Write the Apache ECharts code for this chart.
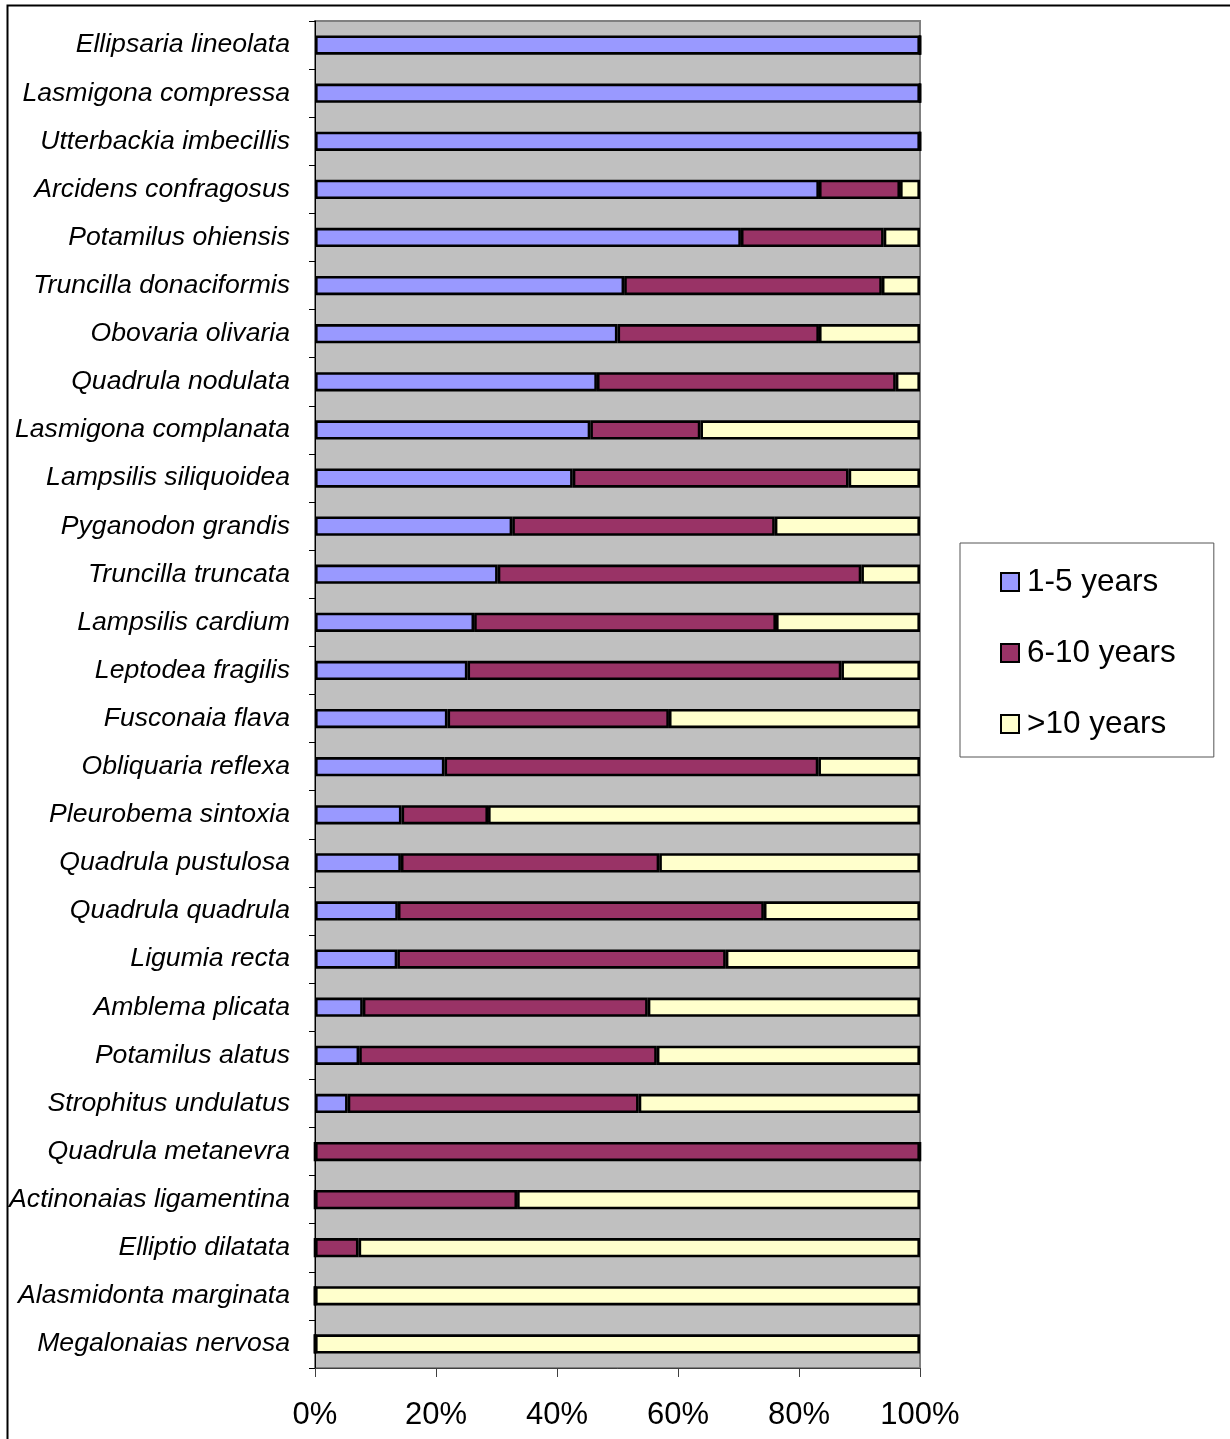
<!DOCTYPE html>
<html>
<head>
<meta charset="utf-8">
<script src="https://cdn.jsdelivr.net/npm/echarts@6/dist/echarts.min.js"></script>
<style>
html,body{margin:0;padding:0;background:#fff;}
#chart{width:1230px;height:1439px;}
</style>
</head>
<body>
<div id="chart"></div>
<script>
const species = [
  "Ellipsaria lineolata","Lasmigona compressa","Utterbackia imbecillis","Arcidens confragosus",
  "Potamilus ohiensis","Truncilla donaciformis","Obovaria olivaria","Quadrula nodulata",
  "Lasmigona complanata","Lampsilis siliquoidea","Pyganodon grandis","Truncilla truncata",
  "Lampsilis cardium","Leptodea fragilis","Fusconaia flava","Obliquaria reflexa",
  "Pleurobema sintoxia","Quadrula pustulosa","Quadrula quadrula","Ligumia recta",
  "Amblema plicata","Potamilus alatus","Strophitus undulatus","Quadrula metanevra",
  "Actinonaias ligamentina","Elliptio dilatata","Alasmidonta marginata","Megalonaias nervosa"
];
const years1to5 = [100,100,100,83.3,70.4,51.1,50.0,46.6,45.5,42.6,32.6,30.2,26.3,25.2,21.9,21.4,14.3,14.2,13.7,13.6,7.9,7.3,5.4,0,0,0,0,0];
const years6to10 = [0,0,0,13.4,23.6,42.6,33.3,49.4,18.2,45.6,43.4,60.1,49.9,61.8,36.6,61.8,14.3,42.7,60.5,54.3,47.1,49.2,48.1,100,33.4,7.2,0,0];
const yearsOver10 = [0,0,0,3.3,6.0,6.3,16.7,4.0,36.3,11.8,24.0,9.7,23.8,13.0,41.5,16.8,71.4,43.1,25.8,32.1,45.0,43.5,46.5,0,66.6,92.8,100,100];
const seriesNames = ["1-5 years","6-10 years",">10 years"];
const xTicks = [0,20,40,60,80,100];

const FONT = "'Liberation Sans', Arial, sans-serif";
const colors = ["#9999FF","#993366","#FFFFCC"];
const dataSets = [years1to5, years6to10, yearsOver10];

const chart = echarts.init(document.getElementById('chart'), null, {renderer:'canvas'});
chart.setOption({
  animation:false,
  backgroundColor:'#ffffff',
  graphic:[{
    type:'rect', left:5, top:3, z:-10,
    shape:{x:0,y:0,width:1240,height:1500},
    style:{fill:'none', stroke:'#000', lineWidth:2}
  }],
  grid:{
    left:315, right:310, top:21, bottom:71,
    show:true, backgroundColor:'#C0C0C0', borderColor:'#808080', borderWidth:2
  },
  legend:{
    orient:'vertical',
    left:960, top:543,
    padding:[23,38,17,40],
    itemWidth:18, itemHeight:18, itemGap:39,
    icon:'rect',
    borderColor:'#555', borderWidth:1,
    backgroundColor:'#fff',
    textStyle:{fontFamily:FONT, fontSize:31.5, color:'#000', lineHeight:31, padding:[0,0,0,3]},
    data:seriesNames
  },
  xAxis:{
    type:'value', min:0, max:100, interval:20,
    axisLine:{show:true, lineStyle:{color:'#404040', width:1}},
    axisTick:{show:true, length:9, lineStyle:{color:'#404040'}},
    splitLine:{show:false},
    axisLabel:{formatter:v=>v+'%', fontFamily:FONT, fontSize:31, color:'#000', margin:32},
    data:xTicks
  },
  yAxis:{
    type:'category', inverse:true, data:species,
    axisLine:{show:true, lineStyle:{color:'#000', width:1}},
    axisTick:{show:true, length:6, lineStyle:{color:'#000'}},
    axisLabel:{fontFamily:FONT, fontSize:26.6, fontStyle:'italic', color:'#000', margin:25, padding:[5,0,0,0]}
  },
  series: seriesNames.map((n,i)=>({
    name:n, type:'bar', stack:'total', barWidth:'40%',
    data:dataSets[i],
    itemStyle:{color:colors[i], borderColor:'#000', borderWidth:2.6}
  }))
});
</script>
</body>
</html>
